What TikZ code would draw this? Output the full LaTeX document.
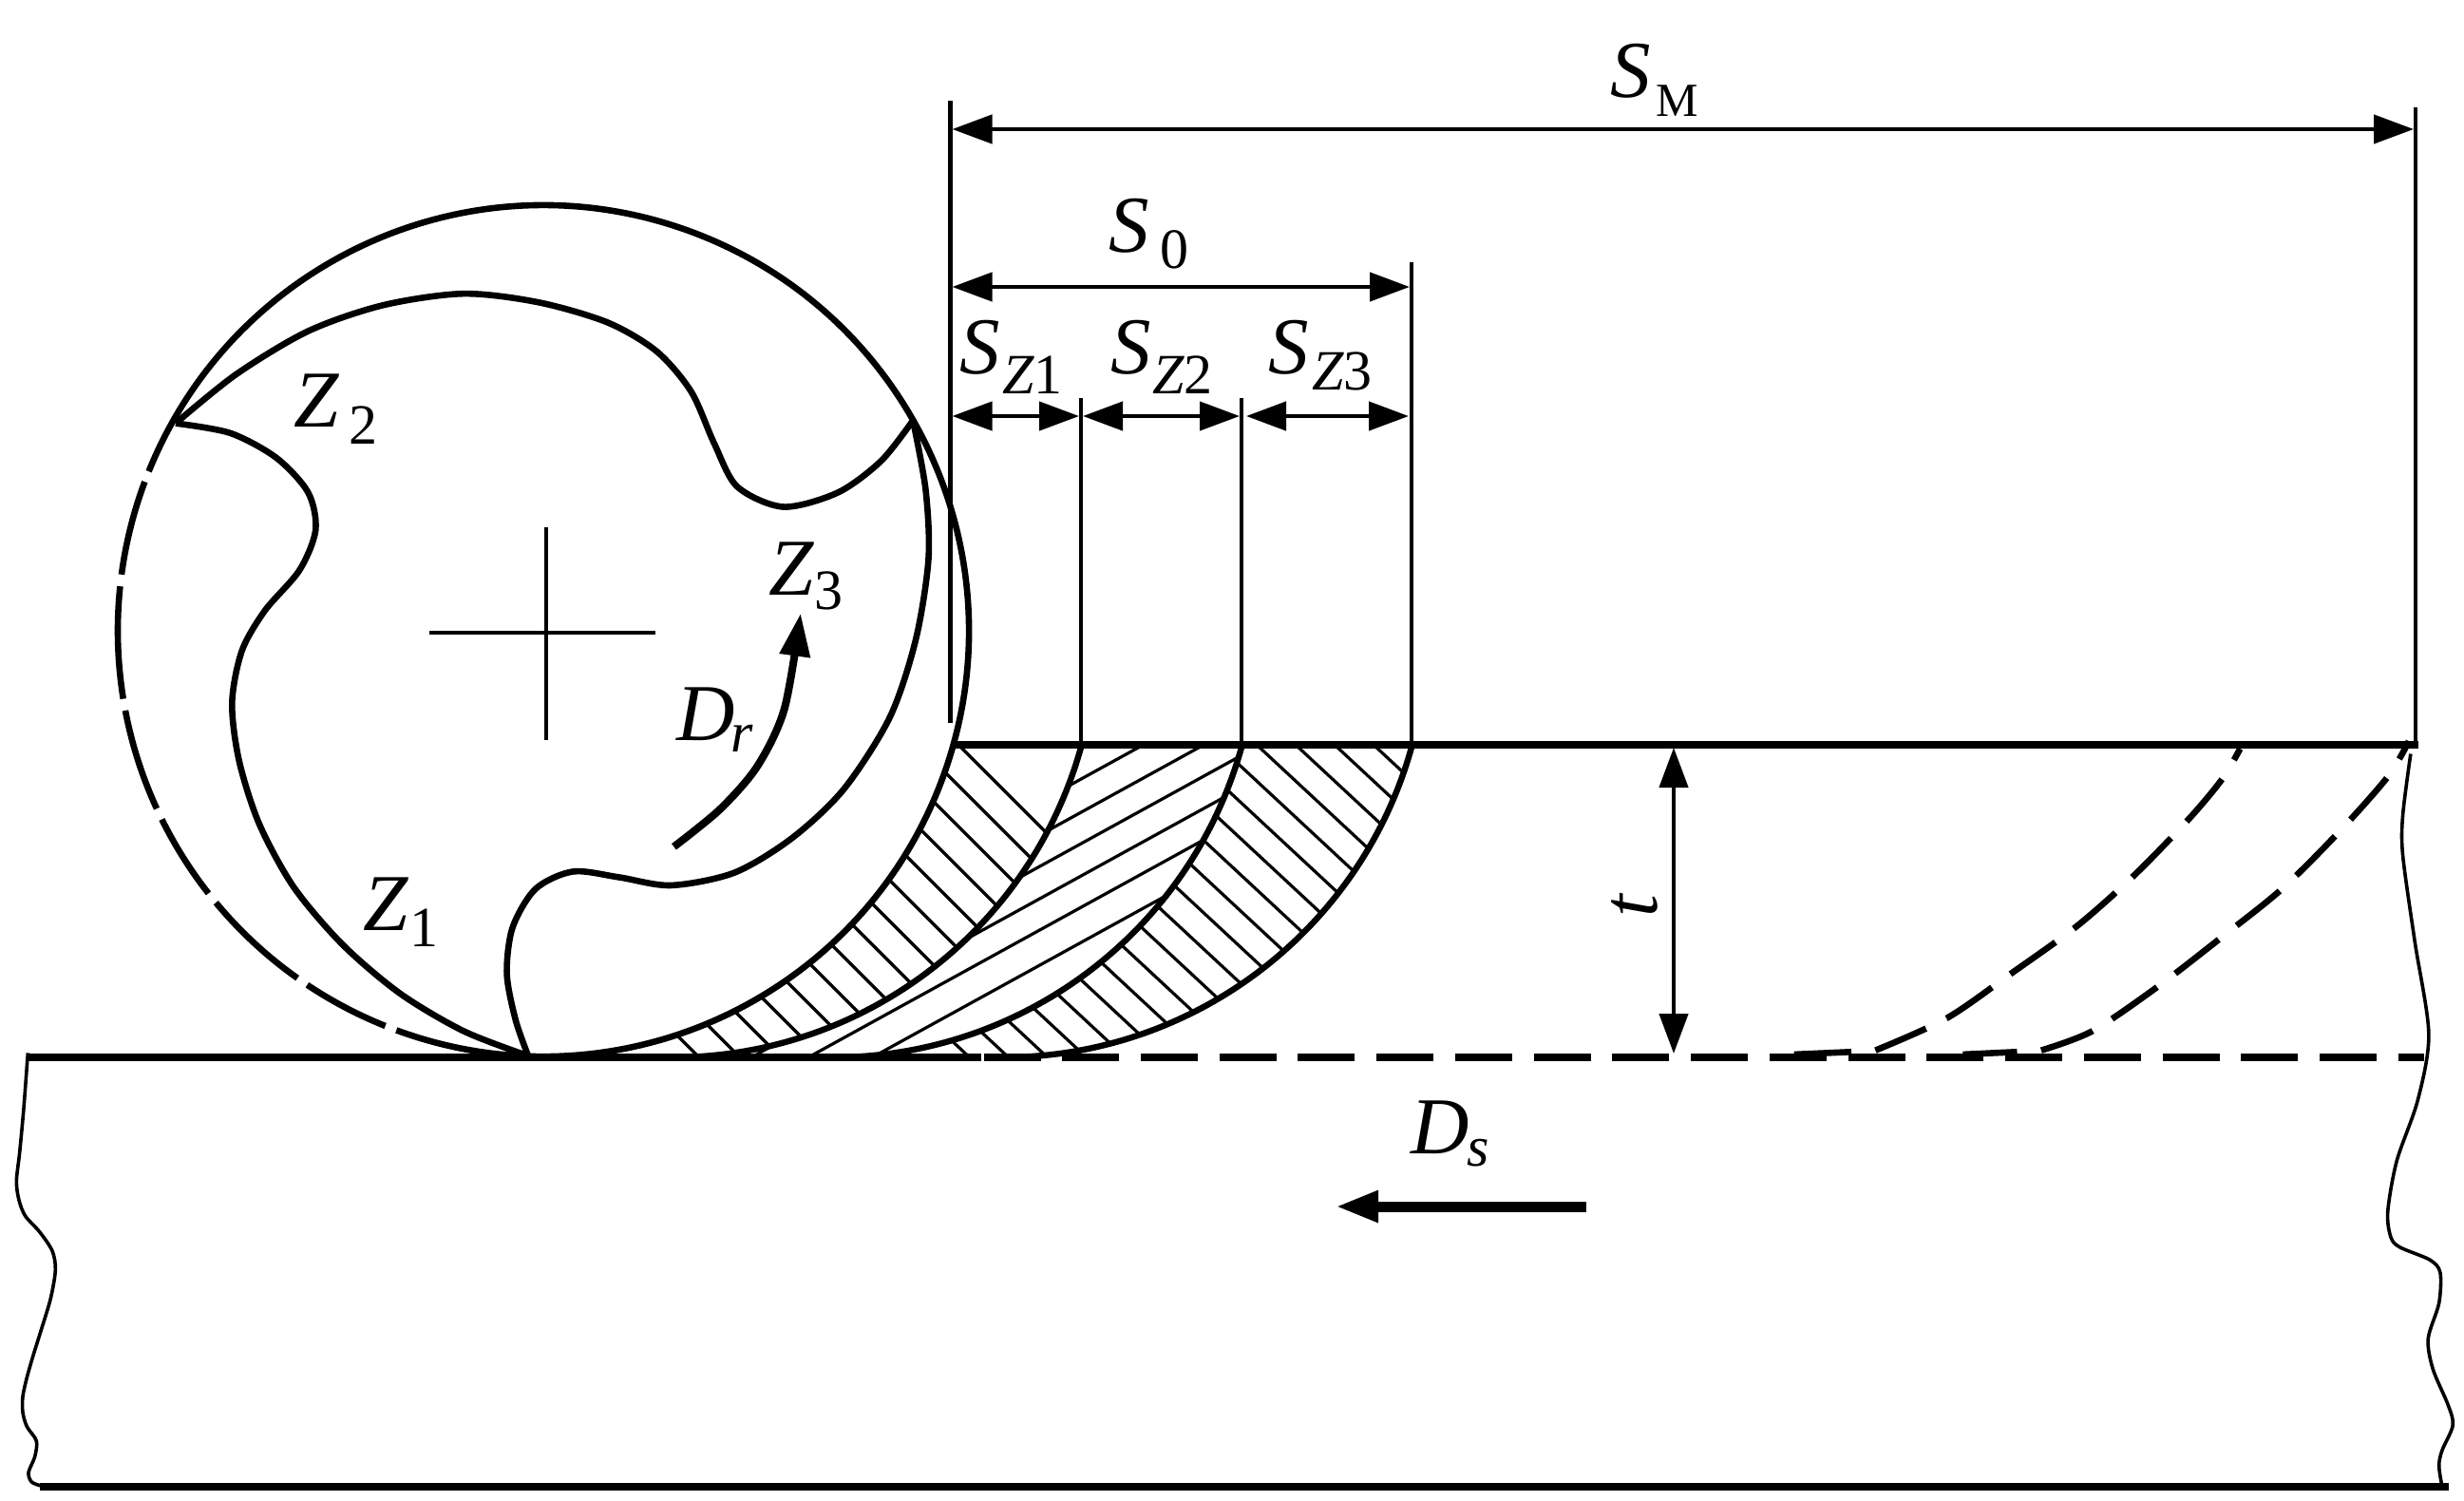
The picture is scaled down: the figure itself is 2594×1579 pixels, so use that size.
\documentclass[tikz,border=0pt]{standalone}
\usepackage{fontspec}
\setmainfont{Liberation Serif}
\usetikzlibrary{arrows.meta}
\newcommand{\fsmain}{\fontsize{42.5}{42.5}\selectfont}
\newcommand{\fssub}{\fontsize{30}{30}\selectfont}
% main letter, x offset, drop, subscript
\newcommand{\lblx}[4]{\makebox[0pt][l]{\fsmain\itshape #1}\kern #2pt\raisebox{-#3pt}{\fssub #4}}
\tikzset{
  lab/.style={anchor=base west,inner sep=0pt,outer sep=0pt},
  heavy/.style={line width=3.3pt},
  cutline/.style={line width=3.2pt},
  base/.style={line width=4.3pt},
  thinline/.style={line width=2pt},
  wavy/.style={line width=1.8pt},
  hatch/.style={line width=1.6pt},
  dim/.style={line width=2.2pt,{Triangle[length=21pt,width=15pt]}-{Triangle[length=21pt,width=15pt]}},
  bigarrow/.style={-{Triangle[length=22.5pt,width=15.5pt]}},
  zb/.style={shift={(100,-200)}},
  zc/.style={shift={(1600,-740)}},
  zd/.style={shift={(0,-1080)}},
}
\begin{document}
\begin{tikzpicture}[x=0.5pt,y=0.5pt]
\useasboundingbox (0,0) rectangle (2594,-1579);
\coordinate (c) at (572,-664);
\coordinate (c1) at (708,-666.5);
\coordinate (c2) at (877,-666.5);
\coordinate (c3) at (1056,-666.5);
% hatching
\begin{scope}
\clip (c1) ++(-15.3:223.25pt) arc[start angle=-15.3,end angle=-90,radius=223.25pt] -- (572,-1112) arc[start angle=-90,end angle=-15.3,radius=224pt] -- cycle;
\foreach \k in {0,...,14}{
  \pgfmathsetmacro{\xa}{1009-43*\k}
  \pgfmathsetmacro{\xb}{\xa+500}
  \draw[hatch] (\xa,-784) -- (\xb,-1284);
}
\end{scope}
\begin{scope}
\clip (c2) ++(-15.3:223.25pt) arc[start angle=-15.3,end angle=-90,radius=223.25pt] -- (708,-1113) arc[start angle=-90,end angle=-15.3,radius=223.25pt] -- cycle;
\foreach \cc in {1446,1481,1514,1548,1581,1618}{
  \pgfmathsetmacro{\ya}{\cc-385}
  \pgfmathsetmacro{\yb}{\cc-770}
  \draw[hatch] (700,-\ya) -- (1400,-\yb);
}
\end{scope}
\begin{scope}
\clip (c3) ++(-15.3:223.25pt) arc[start angle=-15.3,end angle=-90,radius=223.25pt] -- (877,-1113) arc[start angle=-90,end angle=-15.3,radius=223.25pt] -- cycle;
\foreach \k in {0,...,19}{
  \pgfmathsetmacro{\xa}{1446-41*\k}
  \pgfmathsetmacro{\xb}{\xa+700}
  \draw[hatch] (\xa,-784) -- (\xb,-1435);
}
\end{scope}
% circle with small breaks
\foreach \a/\b in {249.8/518,159.5/172.4,174/189.2,190.8/204.7,206.3/218.1,219.7/234.7,236.3/248.2}{
  \draw[heavy] (c) ++(\a:224pt) arc[start angle=\a,end angle=\b,radius=224pt];
}
% cross
\draw[thinline] (452,-666) -- (689.5,-666);
\draw[thinline] (575,-555) -- (575,-779);
% cut curves
\foreach \cn in {c1,c2,c3}{
  \draw[cutline] (\cn) ++(-15.3:223.25pt) arc[start angle=-15.3,end angle=-90,radius=223.25pt];
}
% tool profile
\begin{scope}[zb]
\begin{scope}[x=0.3032pt,y=-0.3032pt]
\draw[heavy] plot[smooth] coordinates {(1420,400)(1442,520)(1447,640)(1425,780)(1380,915)(1300,1040)(1210,1125)(1110,1185)(1000,1207)(910,1193)(830,1183)(765,1213)(725,1280)(715,1360)(730,1440)(752,1503)};
\draw[heavy] plot[smooth] coordinates {(752,1503)(640,1460)(530,1395)(430,1310)(345,1210)(285,1100)(250,990)(238,890)(255,800)(295,730)(355,660)(383,590)(370,525)(315,465)(235,422)(140,405)};
\draw[heavy] plot[smooth] coordinates {(140,405)(245,320)(370,245)(500,200)(640,180)(770,195)(890,230)(975,280)(1035,350)(1075,440)(1115,515)(1195,550)(1290,525)(1365,470)(1420,400)};
\draw[line width=4pt,bigarrow] plot[smooth] coordinates {(1005,1140)(1085,1075)(1150,1000)(1197,900)(1225,735)};
\end{scope}
\end{scope}
% work surface lines
\coordinate (topL) at (1002,-784);
\coordinate (topR) at (2546,-784);
\draw[line width=3.8pt] (topL) -- (topR);
\coordinate (baseL) at (28,-1113);
\coordinate (baseM) at (1033,-1113);
\coordinate (baseN) at (1036,-1113);
\coordinate (baseO) at (1096,-1113);
\coordinate (baseP) at (1118,-1113);
\coordinate (baseQ) at (2552,-1113);
\draw[base] (baseL) -- (baseM);
\draw[base] (baseN) -- (baseO);
\draw[base,dash pattern=on 30pt off 11.375pt] (baseP) -- (baseQ);
\coordinate (botL) at (42,-1565);
\coordinate (botR) at (2578,-1565);
\draw[line width=4.2pt] (botL) -- (botR);
% wavy edges
\begin{scope}[zd]
\begin{scope}[x=0.16667pt,y=-0.16667pt]
\draw[wavy] plot[smooth] coordinates {(88,85)(75,260)(62,400)(52,490)(60,550)(80,600)(125,650)(165,710)(175,770)(160,860)(130,960)(105,1040)(85,1110)(72,1170)(72,1220)(85,1265)(115,1310)(110,1360)(90,1410)(100,1440)(130,1452)};
\end{scope}
\end{scope}
\begin{scope}[zc]
\begin{scope}[x=0.31726pt,y=-0.26767pt]
\draw[wavy] plot[smooth] coordinates {(1478,100)(1465,220)(1465,300)(1485,470)(1508,650)(1490,780)(1455,900)(1440,1000)(1445,1050)(1460,1070)(1510,1095)(1527,1120)(1525,1180)(1507,1250)(1515,1310)(1540,1380)(1548,1420)(1530,1470)(1525,1500)(1530,1540)};
% dashed future cuts, drawn from their lower ends
\draw[heavy,dash pattern=on 29pt off 12pt] plot[smooth] coordinates {(590,683)(708,620)(815,532)(925,438)(1020,338)(1110,228)(1165,150)(1195,90)};
\draw[heavy,dash pattern=on 29pt off 12pt] plot[smooth] coordinates {(865,683)(950,645)(1058,558)(1165,460)(1265,365)(1358,255)(1440,145)(1475,75)};
\draw[heavy] (550,686) -- (455,691);
\draw[heavy] (825,686) -- (735,691);
\end{scope}
\end{scope}
% extension lines
\coordinate (e0t) at (1000.5,-106);
\coordinate (e0b) at (1000.5,-761);
\coordinate (e1t) at (1138,-419);
\coordinate (e1b) at (1138,-784);
\coordinate (e2t) at (1307,-419);
\coordinate (e2b) at (1307,-784);
\coordinate (e3t) at (1486,-276);
\coordinate (e3b) at (1486,-784);
\coordinate (e4t) at (2543,-113);
\coordinate (e4b) at (2543,-784);
\foreach \p/\q in {e0t/e0b,e1t/e1b,e2t/e2b,e3t/e3b,e4t/e4b}{\draw[line width=2.2pt] (\p) -- (\q);}
% dimension arrows
\coordinate (smL) at (1002.5,-136);
\coordinate (smR) at (2541,-136);
\coordinate (s0L) at (1002.5,-302);
\coordinate (s0R) at (1484,-302);
\coordinate (z1L) at (1002.5,-438);
\coordinate (z1R) at (1136,-438);
\coordinate (z2L) at (1140,-438);
\coordinate (z2R) at (1305,-438);
\coordinate (z3L) at (1312,-438);
\coordinate (z3R) at (1483,-438);
\coordinate (tT) at (1762,-787);
\coordinate (tB) at (1762,-1109);
\foreach \p/\q in {smL/smR,s0L/s0R,z1L/z1R,z2L/z2R,z3L/z3R,tT/tB}{\draw[dim] (\p) -- (\q);}
\coordinate (dsA) at (1670,-1270);
\coordinate (dsB) at (1406,-1270);
\draw[line width=5.5pt,bigarrow] (dsA) -- (dsB);
% labels
\node[lab] (lsm) at (1695,-102) {\lblx{S}{24}{10}{\fontsize{25}{25}\selectfont M}};
\node[lab] (ls0) at (1167,-265) {\lblx{S}{27}{8.5}{0}};
\node[lab] (lz1) at (1010,-393.5) {\lblx{S}{22.5}{10.5}{\textit{Z}1}};
\node[lab] (lz2) at (1169,-393.5) {\lblx{S}{22}{10.5}{\textit{Z}2}};
\node[lab] (lz3) at (1335,-393.5) {\lblx{S}{23}{8.5}{\textit{Z}3}};
\node[lab] (ltwo) at (309,-449) {\lblx{Z}{29}{9}{2}};
\node[lab] (lone) at (382,-979) {\lblx{Z}{24.5}{8.5}{1}};
\node[lab] (lthree) at (809.5,-626) {\lblx{Z}{24}{7.5}{3}};
\node[lab] (ldr) at (712.5,-779) {\lblx{D}{28.5}{6}{\textit{r}}};
\node[lab] (lds) at (1485,-1214) {\lblx{D}{29.5}{6.5}{\textit{s}}};
\node[inner sep=0pt,rotate=90] (lt) at (1721,-954) {\fsmain\itshape t};
\end{tikzpicture}
\end{document}
